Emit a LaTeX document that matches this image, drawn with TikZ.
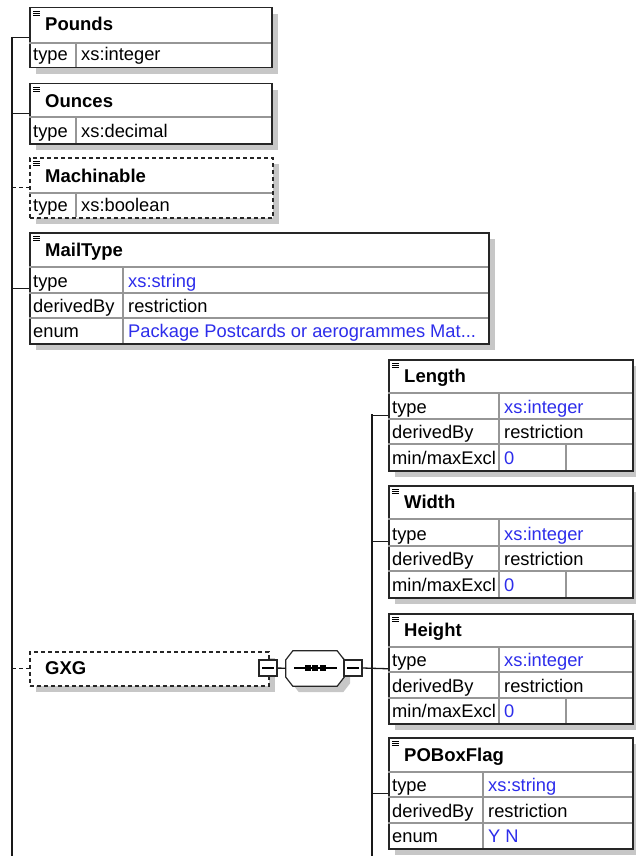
\documentclass[tikz,border=0pt]{standalone}
\usepackage{fontspec}
\setmainfont{Liberation Sans}
\usetikzlibrary{shadows}
\definecolor{valblue}{RGB}{45,45,235}
\definecolor{gridgray}{RGB}{150,150,150}
\newcommand{\elemicon}[2]{\foreach \d in {0,2,4} \draw[line width=0.8pt] ({#1},{#2+\d}) -- ++(7,0);}
\newcommand{\octpath}[1]{([yshift=-9pt]#1.north west) -- ([xshift=7pt]#1.north west) -- ([xshift=-7pt]#1.north east)
  -- ([yshift=-9pt]#1.north east) -- ([yshift=9pt]#1.south east) -- ([xshift=-7pt]#1.south east)
  -- ([xshift=7pt]#1.south west) -- ([yshift=9pt]#1.south west) -- cycle}

\begin{document}
\begin{tikzpicture}[x=1pt,y=-1pt]
\useasboundingbox (0,0) rectangle (635,856);
\tikzstyle{elem}=[rectangle,draw=black!85,line width=1.5pt,fill=white,anchor=north west,inner sep=0pt,drop shadow={shadow xshift=6pt,shadow yshift=-6pt,fill=black!22,opacity=1}]
\tikzstyle{optelem}=[elem,dash pattern=on 4pt off 3pt]
\tikzstyle{sep}=[line width=1.2pt,color=gridgray]
\tikzstyle{hdr}=[anchor=base west,inner sep=0pt,font=\fontsize{18.5}{21}\selectfont\bfseries]
\tikzstyle{lbl}=[anchor=base west,inner sep=0pt,font=\fontsize{18.3}{21}\selectfont]
\tikzstyle{val}=[lbl,text=valblue]
\tikzstyle{link}=[line width=1.3pt,color=black!90]
\tikzstyle{toggle}=[rectangle,draw=black!85,line width=1.2pt,fill=white,minimum width=18pt,minimum height=16pt,inner sep=0pt]
\tikzstyle{octbox}=[rectangle,inner sep=0pt,minimum width=58pt,minimum height=35pt]

% left column
\node[elem,minimum width=242pt,minimum height=60pt] (pounds) at (29,7) {};
\draw[sep] (29,43) -- (271,43) (76,43) -- (76,67);
\elemicon{33}{11}
\node[hdr] (poundsT) at (45,31) {Pounds};
\node[lbl] (poundsK) at (33,61) {type};
\node[lbl] (poundsV) at (81,61) {xs:integer};

\node[elem,minimum width=242pt,minimum height=60pt] (ounces) at (29,83) {};
\draw[sep] (29,117) -- (271,117) (76,117) -- (76,143);
\elemicon{33}{87}
\node[hdr] (ouncesT) at (45,107) {Ounces};
\node[lbl] (ouncesK) at (33,137) {type};
\node[lbl] (ouncesV) at (81,137) {xs:decimal};

\node[optelem,minimum width=243pt,minimum height=60pt] (machinable) at (29,157) {};
\draw[sep] (29,193) -- (272,193) (76,193) -- (76,217);
\elemicon{33}{161}
\node[hdr] (machinableT) at (45,182) {Machinable};
\node[lbl] (machinableK) at (33,211) {type};
\node[lbl] (machinableV) at (81,211) {xs:boolean};

\node[elem,minimum width=459pt,minimum height=111pt] (mailtype) at (29,232) {};
\draw[sep] (29,267) -- (488,267) (29,293) -- (488,293) (29,318) -- (488,318) (123,267) -- (123,343);
\elemicon{33}{236}
\node[hdr] (mailtypeT) at (45,256) {MailType};
\node[lbl] (mailtypeK1) at (33,287) {type};
\node[val] (mailtypeV1) at (128,287) {xs:string};
\node[lbl] (mailtypeK2) at (33,312) {derivedBy};
\node[lbl] (mailtypeV2) at (128,312) {restriction};
\node[lbl] (mailtypeK3) at (33,337) {enum};
\node[val] (mailtypeV3) at (128,337) {Package Postcards or aerogrammes Mat...};

\node[optelem,minimum width=239pt,minimum height=34pt] (gxg) at (29,651) {};
\node[hdr] (gxgT) at (45,674) {GXG};
\node[toggle] (gxgTog) at (268,668) {};
\draw[line width=1.2pt] ([xshift=4pt]gxgTog.west) -- ([xshift=-4pt]gxgTog.east);

% sequence
\node[octbox] (seqShadow) at (321,674.5) {};
\node[octbox] (seq) at (315,668.5) {};
\fill[black!22] \octpath{seqShadow};
\draw[line width=1.2pt,draw=black!85,fill=white] \octpath{seq};
\draw[line width=1.3pt] (294,668) -- (337,668);
\foreach \x in {307.5,315,322.5} \fill (\x-3,665) rectangle +(6,6);
\node[toggle] (seqTog) at (353,668) {};
\draw[line width=1.2pt] ([xshift=4pt]seqTog.west) -- ([xshift=-4pt]seqTog.east);

% right column
\node[elem,minimum width=244pt,minimum height=111pt] (length) at (388,359) {};
\draw[sep] (388,393) -- (632,393) (388,419) -- (632,419) (388,444) -- (632,444) (499,393) -- (499,470) (566,444) -- (566,470);
\elemicon{392}{363}
\node[hdr] (lengthT) at (404,382) {Length};
\node[lbl] (lengthK1) at (392,413) {type};
\node[val] (lengthV1) at (504,413) {xs:integer};
\node[lbl] (lengthK2) at (392,438) {derivedBy};
\node[lbl] (lengthV2) at (504,438) {restriction};
\node[lbl] (lengthK3) at (392,464) {min/maxExcl};
\node[val] (lengthV3) at (504,464) {0};

\node[elem,minimum width=244pt,minimum height=112pt] (width) at (388,485) {};
\draw[sep] (388,519) -- (632,519) (388,546) -- (632,546) (388,571) -- (632,571) (499,519) -- (499,597) (566,571) -- (566,597);
\elemicon{392}{489}
\node[hdr] (widthT) at (404,508) {Width};
\node[lbl] (widthK1) at (392,540) {type};
\node[val] (widthV1) at (504,540) {xs:integer};
\node[lbl] (widthK2) at (392,565) {derivedBy};
\node[lbl] (widthV2) at (504,565) {restriction};
\node[lbl] (widthK3) at (392,591) {min/maxExcl};
\node[val] (widthV3) at (504,591) {0};

\node[elem,minimum width=244pt,minimum height=110pt] (height) at (388,613) {};
\draw[sep] (388,647) -- (632,647) (388,672) -- (632,672) (388,698) -- (632,698) (499,647) -- (499,723) (566,698) -- (566,723);
\elemicon{392}{617}
\node[hdr] (heightT) at (404,636) {Height};
\node[lbl] (heightK1) at (392,666) {type};
\node[val] (heightV1) at (504,666) {xs:integer};
\node[lbl] (heightK2) at (392,692) {derivedBy};
\node[lbl] (heightV2) at (504,692) {restriction};
\node[lbl] (heightK3) at (392,717) {min/maxExcl};
\node[val] (heightV3) at (504,717) {0};

\node[elem,minimum width=244pt,minimum height=111pt] (poboxflag) at (388,737) {};
\draw[sep] (388,772) -- (632,772) (388,797) -- (632,797) (388,823) -- (632,823) (483,772) -- (483,848);
\elemicon{392}{741}
\node[hdr] (poboxflagT) at (404,761) {POBoxFlag};
\node[lbl] (poboxflagK1) at (392,791) {type};
\node[val] (poboxflagV1) at (488,791) {xs:string};
\node[lbl] (poboxflagK2) at (392,817) {derivedBy};
\node[lbl] (poboxflagV2) at (488,817) {restriction};
\node[lbl] (poboxflagK3) at (392,842) {enum};
\node[val] (poboxflagV3) at (488,842) {Y N};

% connectors
\coordinate (trunkL) at (12,37);
\coordinate (trunkLend) at (12,856);
\coordinate (trunkR) at (372,414);
\coordinate (trunkRend) at (372,856);
\draw[link] (trunkL) -- (trunkLend);
\draw[link] (trunkR) -- (trunkRend);
\draw[link] (trunkL |- pounds.west) -- (pounds.west);
\draw[link] (trunkL |- ounces.west) -- (ounces.west);
\draw[link,dash pattern=on 4pt off 3pt] (trunkL |- machinable.west) -- (machinable.west);
\draw[link] (trunkL |- mailtype.west) -- (mailtype.west);
\draw[link,dash pattern=on 4pt off 3pt] (trunkL |- gxg.west) -- (gxg.west);
\draw[link] (gxgTog) -- (seq);
\draw[link] (seqTog.east) -- (height.west);
\draw[link] (trunkR |- length.west) -- (length.west);
\draw[link] (trunkR |- width.west) -- (width.west);
\draw[link] (trunkR |- poboxflag.west) -- (poboxflag.west);
\end{tikzpicture}
\end{document}
